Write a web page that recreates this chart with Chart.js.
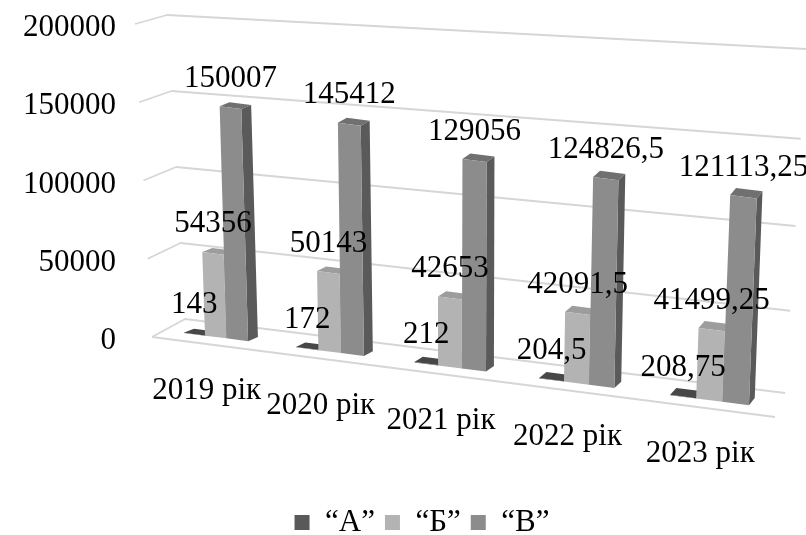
<!DOCTYPE html>
<html>
<head>
<meta charset="utf-8">
<script src="https://cdn.jsdelivr.net/npm/chart.js@4.4.0/dist/chart.umd.min.js"></script>
<style>
  html, body { margin: 0; padding: 0; background: #fff; }
  #wrap { width: 806px; height: 535px; position: relative; }
</style>
</head>
<body>
<div id="wrap"><canvas id="chart"></canvas></div>
<script>
// ===============================
//  ДАНІ
// ===============================
const categories = ["2019 рік", "2020 рік", "2021 рік", "2022 рік", "2023 рік"];
const seriesNames = ["“А”", "“Б”", "“В”"];
const valuesA = [143, 172, 212, 204.5, 208.75];
const valuesB = [54356, 50143, 42653, 42091.5, 41499.25];
const valuesV = [150007, 145412, 129056, 124826.5, 121113.25];
const yTicks = [0, 50000, 100000, 150000, 200000];

const yMax = yTicks[yTicks.length - 1];
const FONT = '"Liberation Serif", "Times New Roman", serif';
const FONT_SIZE = 31;
const PAD = { left: 0, right: -38, top: 25, bottom: -13 };
const AREA_BOTTOM = 338;

// front / top / side
const frontColors = ["#595959", "#b3b3b3", "#8c8c8c"];
const topColors = ["#474747", "#9d9d9d", "#707070"];
const sideColors = ["#3f3f3f", "#929292", "#5a5a5a"];

// перспектива, підібрано на око
const BULGE = 0.0507, DROP = 0.128, HGROW = 0.000206;

const fmt = v => String(v).replace(".", ",");

function view(chart) {
  const xs = chart.scales.x, ys = chart.scales.y;
  const a = xs.getPixelForValue(0), b = xs.getPixelForValue(categories.length - 1);
  const y0 = ys.getPixelForValue(0);
  const k = BULGE * (b - a) / 2;
  return {
    a, b, y0,
    X: u => { const q = 2 * (u - a) / (b - a) - 1; return u - k * (1 - q * q); },
    dX: u => 1 + 2 * BULGE * (2 * (u - a) / (b - a) - 1),
    floor: x => y0 - 1 + DROP * (x - a),
    hs: x => 0.984 + HGROW * (x - a),
    lean: s => 0.032 - 0.066 * s
  };
}

function barMatrix(p, el) {
  const ue = el.x, xc = p.X(ue), sx = p.dX(ue);
  const m = p.hs(xc), s = (xc - p.a) / (p.b - p.a);
  const L = p.lean(s);
  return {
    a: sx, b: DROP * sx, c: L * m, d: m,
    e: xc - sx * ue - L * m * p.y0,
    f: p.floor(xc) - DROP * sx * ue - m * p.y0,
    s
  };
}

const apply = (M, u, y) => [M.a * u + M.c * y + M.e, M.b * u + M.d * y + M.f];

function fillPoly(ctx, pts, color) {
  ctx.beginPath();
  ctx.moveTo(pts[0][0], pts[0][1]);
  pts.slice(1).forEach(pt => ctx.lineTo(pt[0], pt[1]));
  ctx.closePath();
  ctx.fillStyle = color;
  ctx.fill();
}

function drawWalls(chart) {
  const ctx = chart.ctx, ca = chart.chartArea, ys = chart.scales.y;
  ctx.save();
  ctx.strokeStyle = "#d6d6d6";
  ctx.lineWidth = 1.8;
  ctx.lineJoin = "round";
  ys.ticks.forEach(tk => {
    const t = tk.value / yMax, py = ys.getPixelForValue(tk.value);
    ctx.beginPath();
    ctx.moveTo(ca.left - 2 - 17 * t, py - 1);
    ctx.lineTo(ca.left + 31 - 18 * t, py - 19 + 9 * t);
    ctx.lineTo(ca.right + 14 + 21 * t, py + 55 - 31 * t + 20 * t * (1 - t));
    ctx.stroke();
  });
  // передній край підлоги
  const p0 = ys.getPixelForValue(0);
  ctx.beginPath();
  ctx.moveTo(ca.left - 2, p0 - 1);
  ctx.lineTo(ca.right + 4, p0 + 79);
  ctx.stroke();
  ctx.restore();
}

function drawBar(ctx, p, el, d) {
  const M = barMatrix(p, el);
  const hw = el.width / 2;
  const tl = apply(M, el.x - hw, el.y);
  const tr = apply(M, el.x + hw, el.y);
  const br = apply(M, el.x + hw, el.base);
  const dx = 10 - 4 * M.s, dy = -4 - 3 * M.s;
  fillPoly(ctx, [tl, tr, [tr[0] + dx, tr[1] + dy], [tl[0] + dx, tl[1] + dy]], topColors[d]);
  fillPoly(ctx, [tr, [tr[0] + dx, tr[1] + dy], [br[0] + dx, br[1] + dy], br], sideColors[d]);
  ctx.save();
  ctx.transform(M.a, M.b, M.c, M.d, M.e, M.f);
  el.draw(ctx);
  ctx.restore();
}

// ===============================
//  ПСЕВДО-3D
// ===============================
const pseudo3d = {
  id: "pseudo3d",
  beforeDatasetsDraw(chart) {
    const ctx = chart.ctx, p = view(chart);
    drawWalls(chart);
    categories.forEach((c, i) => {
      chart.data.datasets.forEach((ds, d) => {
        if (!chart.isDatasetVisible(d)) return;
        drawBar(ctx, p, chart.getDatasetMeta(d).data[i], d);
      });
    });
    return false;
  },
  afterDraw(chart) {
    const ctx = chart.ctx, p = view(chart), xs = chart.scales.x;
    ctx.save();
    ctx.font = FONT_SIZE + "px " + FONT;
    ctx.fillStyle = "#000";
    ctx.textAlign = "center";
    ctx.textBaseline = "middle";
    chart.data.datasets.forEach((ds, d) => {
      if (!chart.isDatasetVisible(d)) return;
      chart.getDatasetMeta(d).data.forEach((el, i) => {
        const pt = apply(barMatrix(p, el), el.x, el.y);
        ctx.fillText(fmt(ds.data[i]), pt[0], pt[1] - 29);
      });
    });
    categories.forEach((c, i) => {
      const x = p.X(xs.getPixelForValue(i)) - 9;
      ctx.fillText(c, x, p.floor(x) + 55);
    });
    ctx.restore();
  }
};

new Chart(document.getElementById("chart"), {
  type: "bar",
  data: {
    labels: categories,
    datasets: [valuesA, valuesB, valuesV].map((vals, d) => ({
      label: seriesNames[d],
      data: vals,
      backgroundColor: frontColors[d],
      borderWidth: 0,
      categoryPercentage: 0.58,
      barPercentage: 1
    }))
  },
  options: {
    responsive: true,
    maintainAspectRatio: false,
    animation: false,
    events: [],
    layout: { padding: PAD },
    scales: {
      x: {
        grid: { display: false, drawTicks: false },
        border: { display: false },
        ticks: { display: false },
        afterFit(s) {
          const lg = s.chart.legend;
          s.height = s.chart.height - PAD.bottom - AREA_BOTTOM - (lg ? lg.height : 41);
        }
      },
      y: {
        min: 0,
        max: yMax,
        grid: { display: false, drawTicks: false },
        border: { display: false },
        ticks: {
          stepSize: yTicks[1] - yTicks[0],
          padding: 38,
          labelOffset: 3,
          color: "#000",
          font: { family: FONT, size: FONT_SIZE },
          callback: v => String(v)
        },
        afterFit(s) {
          s.width = 154;
          s.paddingTop = 0;
          s.paddingBottom = 0;
        }
      },
      yR: {
        type: "linear",
        position: "right",
        display: true,
        grid: { display: false, drawTicks: false },
        border: { display: false },
        ticks: { display: false },
        afterFit(s) { s.width = 73; }
      }
    },
    plugins: {
      legend: {
        position: "bottom",
        labels: {
          color: "#000",
          font: { family: FONT, size: FONT_SIZE },
          boxWidth: 15,
          boxHeight: 15,
          padding: 10
        }
      },
      tooltip: { enabled: false }
    }
  },
  plugins: [pseudo3d]
});
</script>
</body>
</html>
